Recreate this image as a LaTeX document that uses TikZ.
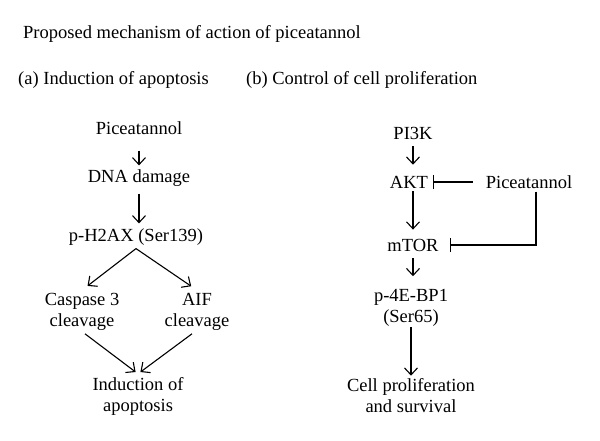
\documentclass[tikz,border=0pt]{standalone}
\usepackage{fontspec}
\setmainfont{Liberation Serif}
\usetikzlibrary{arrows.meta}

\tikzset{
  lbl/.style={inner sep=3pt, align=center, font=\fontsize{18.5}{21}\selectfont},
  act/.style={draw, line width=1.1pt, -{Straight Barb[length=7pt,width=13pt]}},
  inh/.style={draw, line width=1.1pt, -{Bar[width=14pt]}}
}

\begin{document}
\begin{tikzpicture}[x=1pt, y=-1pt]
  \useasboundingbox (0,0) rectangle (600,440);
  % titles
  \node[lbl, anchor=west] (title) at (20,34) {Proposed mechanism of action of piceatannol};
  \node[lbl, anchor=west] (tita) at (15,80) {(a) Induction of apoptosis};
  \node[lbl, anchor=west] (titb) at (243,80) {(b) Control of cell proliferation};

  % (a) apoptosis
  \node[lbl] (pica) at (139,128) {Piceatannol};
  \node[lbl] (dna) at (139,178) {DNA damage};
  \node[lbl] (h2ax) at (136,237) {p-H2AX (Ser139)};
  \node[lbl] (casp) at (82,312) {Caspase 3\\cleavage};
  \node[lbl] (aif) at (197,312) {AIF\\cleavage};
  \node[lbl] (apop) at (138,396) {Induction of\\apoptosis};
  \draw[act, shorten <=13pt, shorten >=1pt] (pica.south) -- (dna.north);
  \draw[act, shorten <=4pt, shorten >=2pt] (dna.south) -- (dna.south |- h2ax.north);
  \draw[act, shorten >=7pt] (h2ax.south) -- (casp.north);
  \draw[act, shorten >=7pt] (h2ax.south) -- (aif.north);
  \draw[act, shorten >=3pt] ([xshift=3pt]casp.south) -- (apop.north);
  \draw[act, shorten >=3pt] ([xshift=-5pt]aif.south) -- (apop.north);

  % (b) proliferation
  \node[lbl] (pi3k) at (413,133) {PI3K};
  \node[lbl] (akt) at (409,182) {AKT};
  \node[lbl] (picb) at (529,182) {Piceatannol};
  \node[lbl] (mtor) at (413,245) {mTOR};
  \node[lbl] (ebp) at (411,308) {p-4E-BP1\\(Ser65)};
  \node[lbl] (prol) at (411,396) {Cell proliferation\\and survival};
  \draw[act, shorten <=4pt, shorten >=8pt] (pi3k.south) -- (pi3k.south |- akt.north);
  \draw[act, shorten >=6pt] (pi3k.south |- akt.south) -- (pi3k.south |- mtor.north);
  \draw[act, shorten <=4pt, shorten >=10pt] (mtor.south) -- (mtor.south |- ebp.north);
  \draw[act, shorten <=-3pt] (ebp.south) -- (prol.north);
  \draw[inh, shorten <=10pt, shorten >=2pt] (picb.west) -- (akt.east);
  \draw[inh, shorten >=8pt] ([xshift=7pt]picb.south) |- (mtor.east);
\end{tikzpicture}
\end{document}
